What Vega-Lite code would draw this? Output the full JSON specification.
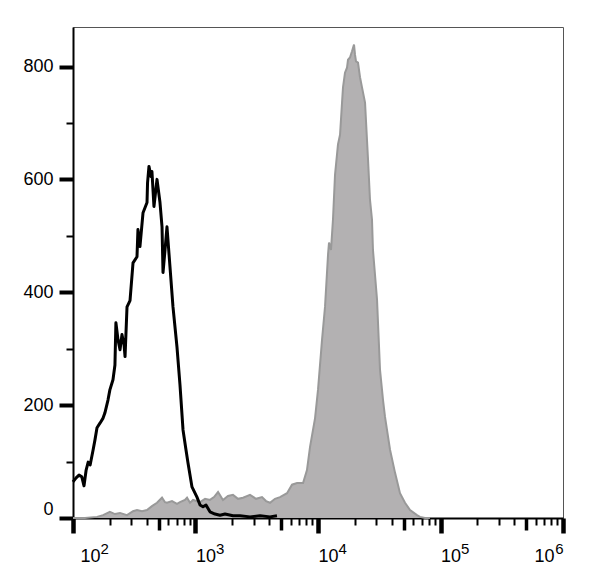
{
  "$schema": "https://vega.github.io/schema/vega-lite/v6.json",
  "width": 490,
  "height": 491,
  "autosize": {"type": "none"},
  "padding": {"left": 73, "top": 27, "right": 37, "bottom": 61},
  "background": "white",
  "config": {
    "view": {"stroke": "#555555", "strokeWidth": 1},
    "axis": {"labelFont": "Liberation Sans", "labelColor": "black", "grid": false}
  },
  "datasets": {
    "gray": [
      {"x": 100, "count": 0}, {"x": 125, "count": 0}, {"x": 157, "count": 2}, {"x": 176, "count": 5},
      {"x": 200, "count": 11}, {"x": 220, "count": 7}, {"x": 242, "count": 9}, {"x": 276, "count": 5},
      {"x": 309, "count": 12}, {"x": 333, "count": 14}, {"x": 366, "count": 12}, {"x": 402, "count": 14},
      {"x": 441, "count": 21}, {"x": 485, "count": 27}, {"x": 533, "count": 36}, {"x": 564, "count": 28},
      {"x": 585, "count": 27}, {"x": 643, "count": 30}, {"x": 706, "count": 25}, {"x": 747, "count": 28},
      {"x": 820, "count": 32}, {"x": 853, "count": 36}, {"x": 902, "count": 27}, {"x": 955, "count": 32},
      {"x": 1089, "count": 28}, {"x": 1197, "count": 34}, {"x": 1313, "count": 32}, {"x": 1416, "count": 37},
      {"x": 1528, "count": 46}, {"x": 1676, "count": 32}, {"x": 1841, "count": 39}, {"x": 2023, "count": 41},
      {"x": 2223, "count": 34}, {"x": 2443, "count": 36}, {"x": 2786, "count": 41}, {"x": 3119, "count": 34},
      {"x": 3491, "count": 37}, {"x": 3767, "count": 30}, {"x": 4057, "count": 27}, {"x": 4457, "count": 34},
      {"x": 4898, "count": 37}, {"x": 5585, "count": 44}, {"x": 6137, "count": 59}, {"x": 6744, "count": 62},
      {"x": 7551, "count": 62}, {"x": 8128, "count": 85}, {"x": 8610, "count": 126}, {"x": 9462, "count": 177},
      {"x": 10000, "count": 227}, {"x": 10790, "count": 316}, {"x": 11410, "count": 374}, {"x": 12080, "count": 467},
      {"x": 12300, "count": 488}, {"x": 12770, "count": 475}, {"x": 13250, "count": 529}, {"x": 13770, "count": 608},
      {"x": 14560, "count": 662}, {"x": 15130, "count": 679}, {"x": 15710, "count": 736}, {"x": 16000, "count": 763},
      {"x": 16610, "count": 789}, {"x": 17250, "count": 798}, {"x": 17580, "count": 812}, {"x": 18250, "count": 816},
      {"x": 18950, "count": 827}, {"x": 19680, "count": 839}, {"x": 20050, "count": 821}, {"x": 20430, "count": 809},
      {"x": 21210, "count": 807}, {"x": 22030, "count": 781}, {"x": 22870, "count": 763}, {"x": 24210, "count": 736},
      {"x": 25610, "count": 635}, {"x": 26570, "count": 564}, {"x": 27590, "count": 529}, {"x": 28100, "count": 475},
      {"x": 30330, "count": 387}, {"x": 32070, "count": 263}, {"x": 33950, "count": 209}, {"x": 35240, "count": 179},
      {"x": 38730, "count": 121}, {"x": 42560, "count": 80}, {"x": 46700, "count": 44}, {"x": 51330, "count": 27},
      {"x": 56410, "count": 14}, {"x": 64280, "count": 5}, {"x": 68050, "count": 2}, {"x": 74700, "count": 0},
      {"x": 82000, "count": 0}
    ],
    "black": [
      {"x": 100, "count": 64}, {"x": 106, "count": 71}, {"x": 112, "count": 76}, {"x": 118, "count": 73},
      {"x": 123, "count": 57}, {"x": 128, "count": 85}, {"x": 133, "count": 99}, {"x": 138, "count": 94},
      {"x": 146, "count": 121}, {"x": 151, "count": 138}, {"x": 157, "count": 160}, {"x": 166, "count": 168},
      {"x": 176, "count": 177}, {"x": 182, "count": 186}, {"x": 193, "count": 209}, {"x": 200, "count": 227},
      {"x": 212, "count": 245}, {"x": 220, "count": 271}, {"x": 224, "count": 346}, {"x": 233, "count": 316},
      {"x": 242, "count": 298}, {"x": 251, "count": 325}, {"x": 261, "count": 307}, {"x": 266, "count": 286},
      {"x": 276, "count": 374}, {"x": 292, "count": 385}, {"x": 309, "count": 452}, {"x": 333, "count": 463},
      {"x": 339, "count": 511}, {"x": 352, "count": 481}, {"x": 373, "count": 541}, {"x": 402, "count": 559},
      {"x": 406, "count": 594}, {"x": 417, "count": 623}, {"x": 433, "count": 605}, {"x": 441, "count": 614},
      {"x": 458, "count": 552}, {"x": 485, "count": 600}, {"x": 513, "count": 559}, {"x": 533, "count": 516},
      {"x": 543, "count": 435}, {"x": 564, "count": 475}, {"x": 585, "count": 516}, {"x": 619, "count": 445},
      {"x": 655, "count": 374}, {"x": 706, "count": 303}, {"x": 747, "count": 236}, {"x": 791, "count": 156},
      {"x": 836, "count": 121}, {"x": 868, "count": 98}, {"x": 936, "count": 55}, {"x": 1028, "count": 37},
      {"x": 1089, "count": 23}, {"x": 1151, "count": 20}, {"x": 1218, "count": 23}, {"x": 1313, "count": 11},
      {"x": 1442, "count": 7}, {"x": 1585, "count": 5}, {"x": 1741, "count": 7}, {"x": 2023, "count": 4},
      {"x": 2307, "count": 4}, {"x": 2786, "count": 2}, {"x": 3366, "count": 4}, {"x": 4057, "count": 2},
      {"x": 4624, "count": 4}
    ]
  },
  "layer": [
    {
      "data": {"name": "gray"},
      "mark": {"type": "area", "color": "#b3b1b2", "opacity": 1, "fillOpacity": 1, "interpolate": "linear", "line": {"color": "#999999", "strokeWidth": 2}},
      "encoding": {
        "x": {
          "field": "x", "type": "quantitative",
          "scale": {"type": "log", "domain": [100, 1000000], "nice": false},
          "axis": {
            "orient": "bottom",
            "title": null,
            "values": [100,200,300,400,500,600,700,800,900,1000,2000,3000,4000,5000,6000,7000,8000,9000,10000,20000,30000,40000,50000,60000,70000,80000,90000,100000,200000,300000,400000,500000,600000,700000,800000,900000,1000000],
            "labelExpr": "indexof([100,1000,10000,100000,1000000], datum.value) >= 0 ? '10' : ''",
            "domainColor": "black",
            "domainWidth": 2,
            "tickColor": "black",
            "tickSize": {"condition": [
              {"test": "indexof([100,1000,10000,100000,1000000], datum.value) >= 0", "value": 15},
              {"test": "indexof([500,5000,50000,500000], datum.value) >= 0", "value": 12}
            ], "value": 7},
            "tickWidth": {"condition": [
              {"test": "indexof([100,1000,10000,100000,1000000], datum.value) >= 0", "value": 4.5},
              {"test": "indexof([500,5000,50000,500000], datum.value) >= 0", "value": 3.5}
            ], "value": 2},
            "labelFontSize": 18,
            "labelPadding": 14,
            "labelBaseline": "top",
            "labelAlign": {"condition": {"test": "datum.value >= 1000000", "value": "right"}, "value": "left"},
            "labelOffset": {"condition": [
              {"test": "datum.value <= 100", "value": 7},
              {"test": "datum.value >= 1000000", "value": -9}
            ], "value": 0},
            "labelOverlap": false,
            "labelBound": false,
            "labelFlush": false
          }
        },
        "y": {
          "field": "count", "type": "quantitative",
          "scale": {"domain": [0, 870], "nice": false},
          "axis": {
            "title": null,
            "values": [0,50,100,150,200,250,300,350,400,450,500,550,600,650,700,750,800,850],
            "labelExpr": "datum.value % 200 == 0 ? datum.label : ''",
            "format": "d",
            "domainColor": "black",
            "domainWidth": 2,
            "tickColor": "black",
            "tickSize": {"condition": {"test": "datum.value % 200 == 0", "value": 14}, "value": 7},
            "tickWidth": {"condition": {"test": "datum.value % 200 == 0", "value": 4}, "value": 2},
            "labelFontSize": 18,
            "labelPadding": 6,
            "labelFlush": 2,
            "labelOverlap": false
          }
        }
      }
    },
    {
      "data": {"name": "black"},
      "mark": {"type": "line", "color": "black", "strokeWidth": 3, "interpolate": "linear", "strokeJoin": "round"},
      "encoding": {
        "x": {
          "field": "x", "type": "quantitative",
          "scale": {"type": "log", "domain": [100, 1000000], "nice": false},
          "axis": {
            "orient": "bottom",
            "title": null,
            "values": [100, 1000, 10000, 100000, 1000000],
            "labelExpr": "'' + (indexof([100,1000,10000,100000,1000000], datum.value) + 2)",
            "ticks": false,
            "domain": false,
            "labelFontSize": 15,
            "labelPadding": 23,
            "labelBaseline": "top",
            "labelAlign": {"condition": {"test": "datum.value >= 1000000", "value": "right"}, "value": "left"},
            "labelOffset": {"condition": [
              {"test": "datum.value <= 100", "value": 27},
              {"test": "datum.value >= 1000000", "value": 0}
            ], "value": 20},
            "labelOverlap": false,
            "labelBound": false,
            "labelFlush": false
          }
        },
        "y": {
          "field": "count", "type": "quantitative",
          "scale": {"domain": [0, 870], "nice": false}
        }
      }
    }
  ],
  "resolve": {"axis": {"x": "independent"}}
}
